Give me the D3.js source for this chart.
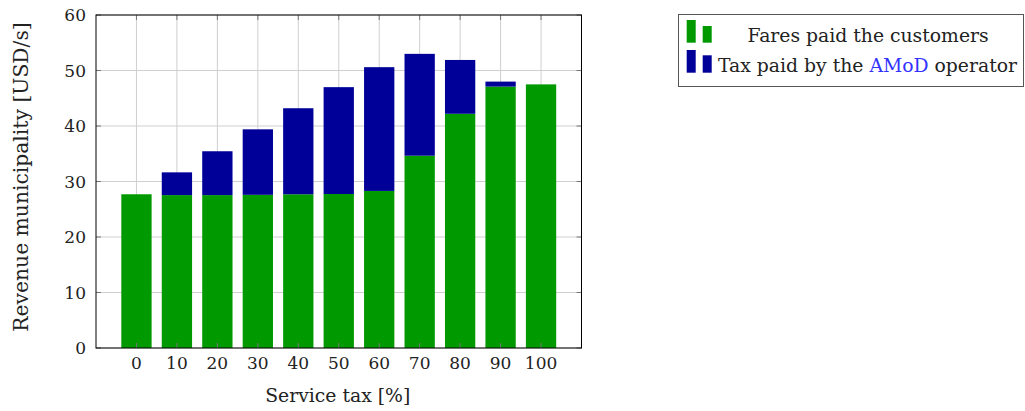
<!DOCTYPE html>
<html><head><meta charset="utf-8">
<script src="https://cdn.jsdelivr.net/npm/d3@7"></script>
<style>body{margin:0;background:#fff}text{font-family:"DejaVu Serif","Liberation Serif",serif;fill:#222}</style>
</head><body><svg id="c" width="1025" height="411"></svg>
<script>
const categories = [0,10,20,30,40,50,60,70,80,90,100];
const fares = [27.7,27.55,27.55,27.6,27.7,27.75,28.3,34.65,42.2,47.1,47.5];
const tax = [0,4.1,7.9,11.8,15.5,19.25,22.3,18.35,9.7,0.9,0];
const yTicks = [0,10,20,30,40,50,60];
const seriesNames = ["Fares paid the customers","Tax paid by the AMoD operator"];
const colors = ["#009900","#000099"];

const svg = d3.select("#c");
const L=96,R=581.5,T=15,B=348;
const x = d3.scaleLinear().domain([-10,110]).range([L,R]);
const y = d3.scaleLinear().domain([0,60]).range([B,T]);
const g = svg.append("g");
// grid
g.selectAll(".gx").data(categories).enter().append("line")
 .attr("x1",d=>x(d)).attr("x2",d=>x(d)).attr("y1",T).attr("y2",B)
 .attr("stroke","#cfcfcf").attr("stroke-width",1);
g.selectAll(".gy").data(yTicks).enter().append("line")
 .attr("x1",L).attr("x2",R).attr("y1",d=>y(d)).attr("y2",d=>y(d))
 .attr("stroke","#cfcfcf").attr("stroke-width",1);
// bars
const bw=30.3;
const data = categories.map((c,i)=>({c,f:fares[i],t:tax[i]}));
g.selectAll(".bf").data(data).enter().append("rect")
 .attr("x",d=>x(d.c)-bw/2).attr("width",bw)
 .attr("y",d=>y(d.f)).attr("height",d=>y(0)-y(d.f)).attr("fill",colors[0]);
g.selectAll(".bt").data(data.filter(d=>d.t>0)).enter().append("rect")
 .attr("x",d=>x(d.c)-bw/2).attr("width",bw)
 .attr("y",d=>y(d.f+d.t)).attr("height",d=>y(d.f)-y(d.f+d.t)).attr("fill",colors[1]);
// ticks (inside, all sides)
const tk=5;
categories.forEach(c=>{
  g.append("line").attr("x1",x(c)).attr("x2",x(c)).attr("y1",T).attr("y2",T+tk).attr("stroke","#777");
  g.append("line").attr("x1",x(c)).attr("x2",x(c)).attr("y1",B).attr("y2",B-tk).attr("stroke","#777");
});
yTicks.forEach(v=>{
  g.append("line").attr("x1",L).attr("x2",L+tk).attr("y1",y(v)).attr("y2",y(v)).attr("stroke","#777");
  g.append("line").attr("x1",R).attr("x2",R-tk).attr("y1",y(v)).attr("y2",y(v)).attr("stroke","#777");
});
g.append("rect").attr("x",L).attr("y",T).attr("width",R-L).attr("height",B-T)
 .attr("fill","none").attr("stroke","#000").attr("stroke-width",1);
// axes labels
const fs=17, fl=18.8;
g.selectAll(".xl").data(categories).enter().append("text")
 .attr("x",d=>x(d)).attr("y",369).attr("text-anchor","middle").attr("font-size",fs).text(d=>d);
g.selectAll(".yl").data(yTicks).enter().append("text")
 .attr("x",86).attr("y",d=>y(d)+6).attr("text-anchor","end").attr("font-size",fs).text(d=>d);
g.append("text").attr("x",(L+R)/2-1).attr("y",402).attr("text-anchor","middle").attr("font-size",fl).text("Service tax [%]");
g.append("text").attr("transform","translate(28,177) rotate(-90)").attr("text-anchor","middle").attr("font-size",fl+1.5).text("Revenue municipality [USD/s]");
// legend
const lg = svg.append("g");
lg.append("rect").attr("x",678.5).attr("y",14.5).attr("width",345).attr("height",72)
 .attr("fill","#fff").attr("stroke","#555").attr("stroke-width",1);
const rows=[{y0:20,y1:26,yb:42.7},{y0:50,y1:55.3,yb:72.7}];
rows.forEach((r,i)=>{
  lg.append("rect").attr("x",686.7).attr("width",9).attr("y",r.y0).attr("height",r.yb-r.y0).attr("fill",colors[i]);
  lg.append("rect").attr("x",702.7).attr("width",9).attr("y",r.y1).attr("height",r.yb-r.y1).attr("fill",colors[i]);
});
lg.append("text").attr("x",868).attr("y",42).attr("text-anchor","middle").attr("font-size",fl).text(seriesNames[0]);
const t2 = lg.append("text").attr("x",718).attr("y",72).attr("font-size",fl);
t2.append("tspan").text("Tax paid by the ");
t2.append("tspan").attr("fill","#3333ff").style("fill","#3333ff").text("AMoD");
t2.append("tspan").text(" operator");
</script></body></html>
